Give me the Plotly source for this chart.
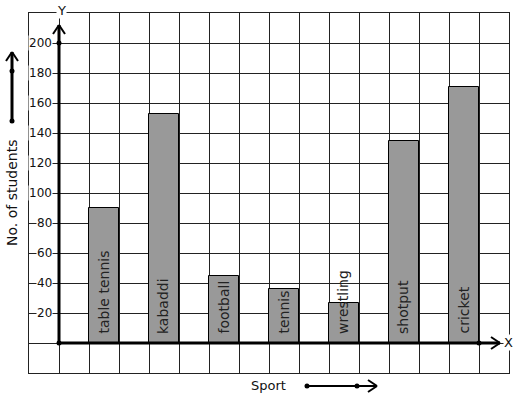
import plotly.graph_objects as go

sports = ["table tennis", "kabaddi", "football", "tennis", "wrestling", "shotput", "cricket"]
students = [90, 153, 45, 36, 27, 135, 171]
y_ticks = [20, 40, 60, 80, 100, 120, 140, 160, 180, 200]
x_title = "Sport"
y_title = "No. of students"

W, H = 517, 399
L, R, T, B = 29, 8, 13, 26
FONT = "DejaVu Sans"

positions = [2 * i + 1.5 for i in range(len(sports))]

fig = go.Figure()
fig.add_trace(go.Bar(
    x=positions, y=students, width=1,
    marker=dict(color="#999999", line=dict(color="black", width=1)),
    hoverinfo="skip", showlegend=False,
))

def px_to_paper(px, py):
    return (px - L) / (W - L - R), (H - B - py) / (H - T - B)

shapes = []
lk = dict(color="black", width=3)
# Y axis
shapes.append(dict(type="line", xref="x", yref="y", x0=0, y0=0, x1=0, y1=212, line=lk, layer="above"))
shapes.append(dict(type="line", xref="x", yref="y", x0=-0.2, y0=206, x1=0, y1=212, line=dict(color="black", width=2), layer="above"))
shapes.append(dict(type="line", xref="x", yref="y", x0=0.2, y0=206, x1=0, y1=212, line=dict(color="black", width=2), layer="above"))
# X axis
shapes.append(dict(type="line", xref="x", yref="y", x0=0, y0=0, x1=14.7, y1=0, line=lk, layer="above"))
shapes.append(dict(type="line", xref="x", yref="y", x0=14.4, y0=4, x1=14.7, y1=0, line=dict(color="black", width=2), layer="above"))
shapes.append(dict(type="line", xref="x", yref="y", x0=14.4, y0=-4, x1=14.7, y1=0, line=dict(color="black", width=2), layer="above"))

def pline(p0, p1, w=3):
    x0, y0 = px_to_paper(*p0)
    x1, y1 = px_to_paper(*p1)
    shapes.append(dict(type="line", xref="paper", yref="paper", x0=x0, y0=y0, x1=x1, y1=y1,
                       line=dict(color="black", width=w), layer="above"))

def pdot(p, r=2.5):
    x, y = px_to_paper(*p)
    shapes.append(dict(type="circle", xref="paper", yref="paper", xsizemode="pixel", ysizemode="pixel",
                       xanchor=x, yanchor=y, x0=-r, x1=r, y0=-r, y1=r,
                       fillcolor="black", line=dict(color="black", width=0), layer="above"))

# left arrow
pline((12, 121), (12, 52))
pline((6, 61), (12, 52), 2)
pline((18, 61), (12, 52), 2)
pdot((12, 121))
pdot((12, 71))
# bottom arrow
pline((307, 386), (377, 386), 2)
pline((368, 380), (377, 386), 2)
pline((368, 392), (377, 386), 2)
pdot((307, 386))
pdot((357, 386))
# axis dots
pdot((59, 343))
pdot((59, 43))
pdot((479, 343))

annotations = []
for v in y_ticks:
    annotations.append(dict(x=0, y=v, xref="x", yref="y", text=str(v), showarrow=False,
                            xanchor="right", yanchor="middle", xshift=-6, bgcolor="white", borderpad=0,
                            font=dict(family=FONT, size=12, color="#111")))
for p, s in zip(positions, sports):
    annotations.append(dict(x=p, y=0, xref="x", yref="y", text=s, showarrow=False, textangle=-90,
                            xanchor="center", yanchor="bottom", yshift=7, xshift=-1,
                            font=dict(family=FONT, size=14, color="#222")))

def ptext(px, py, text, size=13, angle=0, bg=None):
    x, y = px_to_paper(px, py)
    d = dict(x=x, y=y, xref="paper", yref="paper", text=text, showarrow=False,
             xanchor="center", yanchor="middle", textangle=angle,
             font=dict(family=FONT, size=size, color="#111"))
    if bg:
        d.update(bgcolor=bg, borderpad=0)
    annotations.append(d)

ptext(61, 10, "Y", bg="white")
ptext(508, 342, "X", bg="white")
ptext(268, 385, x_title)
ptext(12, 193, y_title, size=14, angle=-90)

fig.update_layout(
    width=W, height=H,
    margin=dict(l=L, r=R, t=T, b=B),
    paper_bgcolor="white", plot_bgcolor="white",
    xaxis=dict(range=[-1, 15], tick0=0, dtick=1, showgrid=True, gridcolor="#222", gridwidth=1,
               showticklabels=False, ticks="", zeroline=False, showline=True, mirror=True,
               linecolor="#222", linewidth=1, fixedrange=True),
    yaxis=dict(range=[-20, 220], tick0=0, dtick=20, showgrid=True, gridcolor="#222", gridwidth=1,
               showticklabels=False, ticks="", zeroline=False, showline=True, mirror=True,
               linecolor="#222", linewidth=1, fixedrange=True),
    shapes=shapes, annotations=annotations,
    bargap=0, showlegend=False,
)

fig.write_html("out.html", config={"displayModeBar": False},
               post_script="document.body.style.margin='0';document.body.style.overflow='hidden';")
